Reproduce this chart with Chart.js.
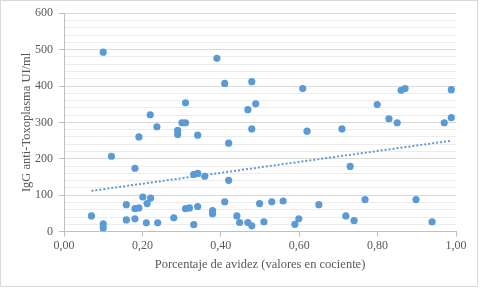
<!DOCTYPE html>
<html>
<head>
<meta charset="utf-8">
<script src="https://cdn.jsdelivr.net/npm/chart.js@4.4.1/dist/chart.umd.min.js"></script>
<style>
    html, body { margin: 0; padding: 0; background: #ffffff; }
    #wrap { position: relative; width: 480px; height: 288px; }
    #frame { position: absolute; left: 0; top: 0; width: 476px; height: 285px; border: 1px solid #d9d9d9; pointer-events: none; }
</style>
</head>
<body>
<div id="wrap">
    <canvas id="avidezChart" width="480" height="288"></canvas>
    <div id="frame"></div>
</div>
<script>
// avidity ratio (x) and IgG level (y)
const avidez = [
    0.07, 0.10, 0.10, 0.10, 0.121, 0.159, 0.159, 0.181, 0.181, 0.191,
    0.181, 0.191, 0.201, 0.212, 0.221, 0.210, 0.22, 0.237, 0.239, 0.280,
    0.290, 0.290, 0.301, 0.310, 0.310, 0.310, 0.320, 0.341, 0.331, 0.331,
    0.341, 0.341, 0.359, 0.379, 0.379, 0.39, 0.41, 0.410, 0.420, 0.420,
    0.441, 0.448, 0.469, 0.479, 0.469, 0.479, 0.479, 0.489, 0.499, 0.510,
    0.530, 0.559, 0.589, 0.599, 0.609, 0.620, 0.650, 0.709, 0.719, 0.730,
    0.740, 0.768, 0.799, 0.829, 0.850, 0.860, 0.870, 0.898, 0.939, 0.970,
    0.988, 0.988
];
const igg = [
    43, 21, 10, 493, 207, 74, 32, 174, 63, 65,
    35, 260, 95, 77, 92, 24, 321, 288, 24, 38,
    278, 267, 299, 299, 354, 63, 65, 69, 19, 157,
    160, 265, 152, 58, 49, 476, 407, 82, 243, 141,
    43, 25, 25, 16, 335, 412, 282, 351, 77, 27,
    82, 84, 20, 35, 393, 276, 74, 282, 43, 179,
    30, 88, 349, 310, 299, 388, 393, 88, 27, 299,
    390, 313
];

// linear trend line, ends
const trendX = [0.07, 0.99];
const trendY = [112, 250];

const xTicks = [0, 0.2, 0.4, 0.6, 0.8, 1.0];

const blue = '#5b9bd5';
const textGray = '#595959';
const serif = "'Liberation Serif', 'Times New Roman', serif";

const points = avidez.map((x, i) => ({ x, y: igg[i] }));
const trend = trendX.map((x, i) => ({ x, y: trendY[i] }));

new Chart(document.getElementById('avidezChart').getContext('2d'), {
    type: 'scatter',
    data: {
        datasets: [
            {
                label: 'IgG',
                data: points,
                backgroundColor: blue,
                borderColor: blue,
                borderWidth: 0,
                pointRadius: 3.6,
                order: 1
            },
            {
                label: 'Lineal',
                type: 'line',
                data: trend,
                borderColor: blue,
                borderWidth: 2,
                borderDash: [2, 2],
                pointRadius: 0,
                fill: false,
                order: 2
            }
        ]
    },
    options: {
        responsive: false,
        animation: false,
        events: [],
        layout: { padding: { left: 19, right: 24, top: 13, bottom: 16 } },
        plugins: {
            legend: { display: false },
            tooltip: { enabled: false }
        },
        scales: {
            x: {
                type: 'linear',
                min: 0,
                max: 1,
                afterBuildTicks: (axis) => { axis.ticks = xTicks.map((v) => ({ value: v })); },
                border: { color: '#bfbfbf', width: 1 },
                grid: { drawOnChartArea: false, drawTicks: true, tickLength: 5, tickColor: '#bfbfbf' },
                ticks: {
                    color: textGray,
                    font: { family: serif, size: 12 },
                    padding: 2,
                    maxRotation: 0,
                    callback: (v) => Number(v).toFixed(2).replace('.', ',')
                },
                title: {
                    display: true,
                    text: 'Porcentaje de avidez (valores en cociente)',
                    color: textGray,
                    font: { family: serif, size: 12.5 },
                    padding: { top: 2, bottom: 0 }
                }
            },
            y: {
                min: 0,
                max: 600,
                afterFit: (axis) => { axis.width = 45; },
                border: { color: '#bfbfbf', width: 1 },
                grid: {
                    color: (ctx) => ctx.tick && ctx.tick.value % 100 === 0 ? '#d9d9d9' : '#ececec',
                    tickColor: (ctx) => ctx.tick && ctx.tick.value % 100 === 0 ? '#bfbfbf' : 'rgba(0,0,0,0)',
                    tickLength: 5,
                    lineWidth: 1
                },
                ticks: {
                    stepSize: 20,
                    color: textGray,
                    font: { family: serif, size: 12 },
                    padding: 6,
                    autoSkip: false,
                    callback: (v) => v % 100 === 0 ? String(v) : ''
                },
                title: {
                    display: true,
                    text: 'IgG anti-Toxoplasma UI/ml',
                    color: textGray,
                    font: { family: serif, size: 12.5 },
                    padding: { top: 0, bottom: 0 }
                }
            }
        }
    }
});
</script>
</body>
</html>
